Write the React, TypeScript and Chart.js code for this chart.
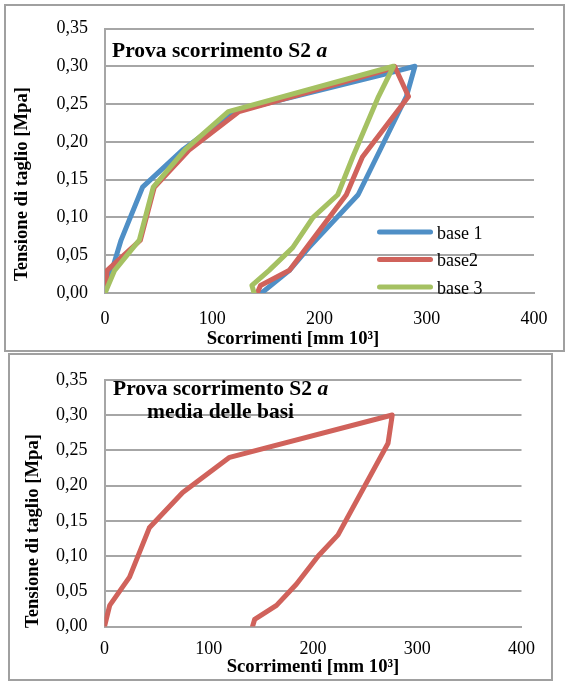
import React, { useEffect, useRef } from "react";
import { Chart, registerables } from "chart.js";

Chart.register(...registerables);

// ---------- data ----------
const base1X = [0, 15, 35, 73, 120, 262, 289, 281, 236, 190, 172, 146];
const base1Y = [0, 0.07, 0.14, 0.19, 0.24, 0.29, 0.3, 0.26, 0.13, 0.06, 0.03, 0];

const base2X = [0, 2, 33, 46, 79, 125, 262, 270, 283, 240, 225, 172, 145, 142];
const base2Y = [0, 0.03, 0.07, 0.14, 0.19, 0.24, 0.295, 0.3, 0.26, 0.18, 0.13, 0.03, 0.01, 0];

const base3X = [0, 9, 32, 45, 75, 115, 269, 255, 231, 217, 194, 175, 153, 137, 139];
const base3Y = [0, 0.03, 0.07, 0.14, 0.19, 0.24, 0.3, 0.26, 0.18, 0.13, 0.1, 0.06, 0.03, 0.01, 0];

const mediaX = [0, 5, 24, 43, 75, 120, 276, 272, 224, 205, 184, 165, 144, 142];
const mediaY = [0, 0.03, 0.07, 0.14, 0.19, 0.24, 0.3, 0.26, 0.13, 0.1, 0.06, 0.03, 0.01, 0];

const seriesLabels = ["base 1", "base2", "base 3"];
const mediaLabel = "media delle basi";

const xTicks = [0, 100, 200, 300, 400];
const yTicks = [0, 0.05, 0.1, 0.15, 0.2, 0.25, 0.3, 0.35];

const titleMain = "Prova scorrimento S2 ";
const titleItalic = "a";
const xTitle = "Scorrimenti [mm 10³]";
const yTitle = "Tensione di taglio [Mpa]";

// ---------- styles ----------
const FONT = "'Liberation Serif', 'Times New Roman', serif";
const GRID = "#a6a6a6";
const BLUE = "#4f8fc6";
const RED = "#d0625b";
const GREEN = "#a5c162";
const TITLE_SIZE = 21.5;
const AXIS_TITLE_SIZE = 18.7;

function pts(xs: number[], ys: number[]) {
  return xs.map((x, i) => ({ x, y: ys[i] }));
}

type Area = {
  left: number;
  right: number;
  top: number;
  bottom: number;
  w: number;
  h: number;
  xPad: number;
};

function buildOptions(area: Area): any {
  return {
    responsive: false,
    animation: false,
    devicePixelRatio: 1,
    layout: {
      padding: { left: 0, top: area.top, right: area.w - area.right, bottom: 0 },
    },
    plugins: {
      legend: { display: false },
      tooltip: { enabled: false },
      title: { display: false },
    },
    elements: { point: { radius: 0 } },
    scales: {
      x: {
        type: "linear",
        min: xTicks[0],
        max: xTicks[xTicks.length - 1],
        afterBuildTicks: (s: any) => {
          s.ticks = xTicks.map((v) => ({ value: v }));
        },
        afterFit: (s: any) => {
          s.height = area.h - area.bottom;
        },
        grid: { display: false, drawTicks: false },
        border: { display: true, color: GRID, width: 2 },
        ticks: {
          padding: area.xPad,
          color: "#000",
          maxRotation: 0,
          font: { size: 18, family: FONT },
          callback: (v: any) => String(v),
        },
      },
      y: {
        type: "linear",
        min: yTicks[0],
        max: yTicks[yTicks.length - 1],
        afterBuildTicks: (s: any) => {
          s.ticks = yTicks.map((v) => ({ value: v }));
        },
        afterFit: (s: any) => {
          s.width = area.left;
        },
        grid: { color: GRID, lineWidth: 2, drawTicks: false },
        border: { display: true, color: GRID, width: 2 },
        ticks: {
          padding: 17,
          color: "#000",
          font: { size: 18, family: FONT },
          callback: (v: any) => Number(v).toFixed(2).replace(".", ","),
        },
      },
    },
  };
}

function lineDs(label: string, xs: number[], ys: number[], color: string, order: number) {
  return {
    label,
    data: pts(xs, ys),
    showLine: true,
    borderColor: color,
    backgroundColor: color,
    borderWidth: 5,
    borderJoinStyle: "round",
    borderCapStyle: "round",
    pointRadius: 0,
    tension: 0,
    fill: false,
    order,
  };
}

function drawAxisTitles(ctx: CanvasRenderingContext2D, xc: number, xy: number, yx: number, yc: number) {
  ctx.save();
  ctx.fillStyle = "#000";
  ctx.font = `bold ${AXIS_TITLE_SIZE}px ${FONT}`;
  ctx.textAlign = "center";
  ctx.textBaseline = "middle";
  ctx.fillText(xTitle, xc, xy);
  ctx.translate(yx, yc);
  ctx.rotate(-Math.PI / 2);
  ctx.fillText(yTitle, 0, 0);
  ctx.restore();
}

const topOverlay = {
  id: "topOverlay",
  afterDraw(chart: any) {
    const ctx: CanvasRenderingContext2D = chart.ctx;
    ctx.save();
    ctx.fillStyle = "#000";
    ctx.textAlign = "left";
    ctx.textBaseline = "alphabetic";
    ctx.font = `bold ${TITLE_SIZE}px ${FONT}`;
    ctx.fillText(titleMain, 112, 57);
    const w = ctx.measureText(titleMain).width;
    ctx.font = `italic bold ${TITLE_SIZE}px ${FONT}`;
    ctx.fillText(titleItalic, 112 + w, 57);
    ctx.restore();

    drawAxisTitles(ctx, 293, 339, 22, 184);

    // legend
    const rows = [232, 259.5, 287];
    ctx.save();
    chart.data.datasets.forEach((ds: any, i: number) => {
      const y = rows[i];
      ctx.strokeStyle = ds.borderColor;
      ctx.lineWidth = 5;
      ctx.lineCap = "round";
      ctx.beginPath();
      ctx.moveTo(379.5, y);
      ctx.lineTo(430.5, y);
      ctx.stroke();
      ctx.fillStyle = "#000";
      ctx.font = `18px ${FONT}`;
      ctx.textAlign = "left";
      ctx.textBaseline = "alphabetic";
      ctx.fillText(ds.label, 437, y + 6.5);
    });
    ctx.restore();
  },
};

const bottomOverlay = {
  id: "bottomOverlay",
  afterDraw(chart: any) {
    const ctx: CanvasRenderingContext2D = chart.ctx;
    ctx.save();
    ctx.fillStyle = "#000";
    ctx.textBaseline = "alphabetic";
    ctx.textAlign = "left";
    ctx.font = `bold ${TITLE_SIZE}px ${FONT}`;
    const w1 = ctx.measureText(titleMain).width;
    ctx.font = `italic bold ${TITLE_SIZE}px ${FONT}`;
    const w2 = ctx.measureText(titleItalic).width;
    const startX = 113;
    ctx.font = `bold ${TITLE_SIZE}px ${FONT}`;
    ctx.fillText(titleMain, startX, 43);
    ctx.font = `italic bold ${TITLE_SIZE}px ${FONT}`;
    ctx.fillText(titleItalic, startX + w1, 43);
    const center = startX + (w1 + w2) / 2;
    ctx.font = `bold ${TITLE_SIZE}px ${FONT}`;
    ctx.textAlign = "center";
    ctx.fillText(mediaLabel, center, 66);
    ctx.restore();

    drawAxisTitles(ctx, 313, 315, 33, 179);
  },
};

export default function App() {
  const topRef = useRef<HTMLCanvasElement | null>(null);
  const botRef = useRef<HTMLCanvasElement | null>(null);

  useEffect(() => {
    Chart.defaults.font.family = FONT;
    const c1 = new Chart(topRef.current as HTMLCanvasElement, {
      type: "scatter",
      data: {
        datasets: [
          lineDs(seriesLabels[0], base1X, base1Y, BLUE, 3),
          lineDs(seriesLabels[1], base2X, base2Y, RED, 2),
          lineDs(seriesLabels[2], base3X, base3Y, GREEN, 1),
        ] as any,
      },
      options: buildOptions({ left: 105, right: 534, top: 28.5, bottom: 293, w: 567, h: 352, xPad: 15 }),
      plugins: [topOverlay],
    });
    const c2 = new Chart(botRef.current as HTMLCanvasElement, {
      type: "scatter",
      data: {
        datasets: [lineDs(mediaLabel, mediaX, mediaY, RED, 1)] as any,
      },
      options: buildOptions({ left: 104.5, right: 521.5, top: 21, bottom: 274.5, w: 567, h: 331, xPad: 12 }),
      plugins: [bottomOverlay],
    });
    return () => {
      c1.destroy();
      c2.destroy();
    };
  }, []);

  return (
    <div style={{ position: "absolute", left: 0, top: 0, width: 567, height: 683, background: "#fff" }}>
      <canvas
        ref={topRef}
        width={567}
        height={352}
        style={{ position: "absolute", left: 0, top: 0, width: 567, height: 352 }}
      />
      <canvas
        ref={botRef}
        width={567}
        height={331}
        style={{ position: "absolute", left: 0, top: 352, width: 567, height: 331 }}
      />
      <div
        style={{
          position: "absolute",
          left: 4,
          top: 4,
          width: 561,
          height: 348,
          border: "2px solid #a0a0a0",
          boxSizing: "border-box",
          pointerEvents: "none",
        }}
      />
      <div
        style={{
          position: "absolute",
          left: 8,
          top: 353,
          width: 545,
          height: 328,
          border: "2px solid #a0a0a0",
          boxSizing: "border-box",
          pointerEvents: "none",
        }}
      />
    </div>
  );
}
